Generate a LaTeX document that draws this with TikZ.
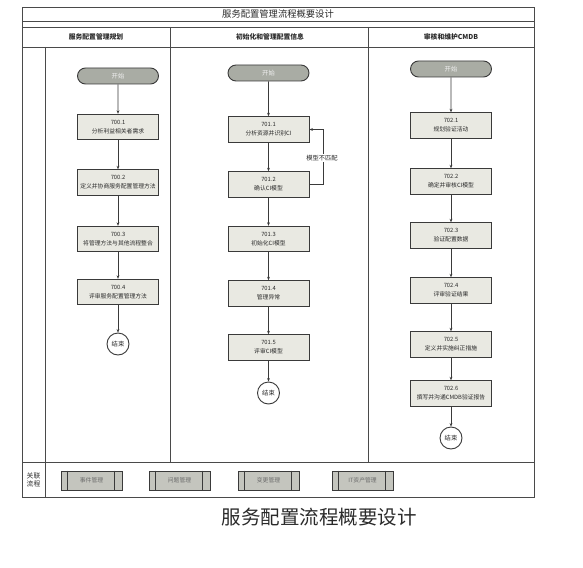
\documentclass[tikz,border=0pt]{standalone}
\usepackage{fontspec}
\setmainfont{Noto Sans CJK SC}
\usetikzlibrary{arrows.meta,shapes.misc}
\definecolor{linec}{HTML}{3A3A3A}
\definecolor{boxfill}{HTML}{E9E9E2}
\definecolor{startfill}{HTML}{A9ACA4}
\definecolor{subfill}{HTML}{C4C5BE}
\definecolor{textc}{HTML}{2A2A2A}
\definecolor{framec}{HTML}{4A4A4A}
\begin{document}
\begin{tikzpicture}[x=1pt,y=-1pt,
  frame/.style={draw=framec, line width=0.8pt},
  proc/.style={draw=linec, fill=boxfill, line width=0.9pt, minimum width=81pt, minimum height=25.5pt, inner sep=0pt, align=center, font=\fontsize{5.8}{9}\selectfont, text=textc},
  startn/.style={rounded rectangle, draw=linec, fill=startfill, line width=0.9pt, minimum width=81pt, minimum height=16pt, inner sep=0pt, font=\fontsize{6.3}{8}\selectfont, text=white!88!gray},
  endn/.style={circle, draw=linec, fill=white, line width=0.9pt, minimum size=22pt, inner sep=0pt, font=\fontsize{6.3}{8}\selectfont, text=textc},
  flow/.style={-{Stealth[length=3.5pt,width=2.8pt]}, line width=0.6pt, draw=linec},
  subp/.style={draw=linec, fill=subfill, line width=0.8pt, minimum width=61pt, minimum height=19pt, inner sep=0pt, font=\fontsize{5.8}{7}\selectfont, text=textc!70!white},
  hdr/.style={font=\fontsize{6.8}{8}\selectfont\bfseries, text=textc},
  lbl/.style={fill=white, inner sep=1pt, font=\fontsize{6.3}{8}\selectfont, text=textc}
]
\useasboundingbox (0,0) rectangle (583,567);
% frame
\draw[frame] (22,7) rectangle (534,497);
\draw[frame] (22,21) -- (534,21);
\draw[frame] (22,27) -- (534,27);
\draw[frame] (22,47) -- (534,47);
\draw[frame] (22,462) -- (534,462);
\draw[frame] (45,47) -- (45,497);
\draw[frame] (170,27) -- (170,462);
\draw[frame] (368,27) -- (368,462);
% titles
\node[font=\fontsize{9.3}{11}\selectfont, text=textc] (title) at (278,14) {服务配置管理流程概要设计};
\node[hdr] (h1) at (96,37) {服务配置管理规划};
\node[hdr] (h2) at (270,37) {初始化和管理配置信息};
\node[hdr] (h3) at (451,37) {审核和维护CMDB};
% column 1
\node[startn] (s0) at (118,76) {开始};
\node[proc] (a1) at (118,127) {700.1\\分析利益相关者需求};
\node[proc] (a2) at (118,182.5) {700.2\\定义并协商服务配置管理方法};
\node[proc] (a3) at (118,239) {700.3\\将管理方法与其他流程整合};
\node[proc] (a4) at (118,292) {700.4\\评审服务配置管理方法};
\node[endn] (e0) at (118,344) {结束};
\draw[flow] (s0) -- (a1);
\draw[flow] (a1) -- (a2);
\draw[flow] (a2) -- (a3);
\draw[flow] (a3) -- (a4);
\draw[flow] (a4) -- (e0);
% column 2
\node[startn] (s1) at (268.5,73) {开始};
\node[proc] (b1) at (268.5,129.5) {701.1\\分析资源并识别CI};
\node[proc] (b2) at (268.5,184.5) {701.2\\确认CI模型};
\node[proc] (b3) at (268.5,239) {701.3\\初始化CI模型};
\node[proc] (b4) at (268.5,293.5) {701.4\\管理异常};
\node[proc] (b5) at (268.5,347.5) {701.5\\评审CI模型};
\node[endn] (e1) at (268.5,393) {结束};
\draw[flow] (s1) -- (b1);
\draw[flow] (b1) -- (b2);
\draw[flow] (b2) -- (b3);
\draw[flow] (b3) -- (b4);
\draw[flow] (b4) -- (b5);
\draw[flow] (b5) -- (e1);
\coordinate (lpA) at (323,184.5);
\coordinate (lpB) at (323,129.5);
\draw[flow] (b2.east) -- (lpA) -- (lpB) -- (b1.east);
\node[lbl] (mis) at (322,158) {模型不匹配};
% column 3
\node[startn] (s2) at (451,69) {开始};
\node[proc] (c1) at (451,125.5) {702.1\\规划验证活动};
\node[proc] (c2) at (451,181.5) {702.2\\确定并审核CI模型};
\node[proc] (c3) at (451,235.5) {702.3\\验证配置数据};
\node[proc] (c4) at (451,290.5) {702.4\\评审验证结果};
\node[proc] (c5) at (451,344.5) {702.5\\定义并实施纠正措施};
\node[proc] (c6) at (451,393.5) {702.6\\撰写并沟通CMDB验证报告};
\node[endn] (e2) at (451,438) {结束};
\draw[flow] (s2) -- (c1);
\draw[flow] (c1) -- (c2);
\draw[flow] (c2) -- (c3);
\draw[flow] (c3) -- (c4);
\draw[flow] (c4) -- (c5);
\draw[flow] (c5) -- (c6);
\draw[flow] (c6) -- (e2);
% related processes
\node[align=center, font=\fontsize{6.8}{8.5}\selectfont, text=textc] (rel) at (33.5,480) {关联\\流程};
\foreach \n/\x/\t in {p1/91.5/事件管理, p2/179.5/问题管理, p3/268.5/变更管理, p4/362.5/IT资产管理}{
  \node[subp] (\n) at (\x,480.5) {\t};
  \draw[draw=linec, line width=0.8pt] ([xshift=7pt]\n.north west) -- ([xshift=7pt]\n.south west);
  \draw[draw=linec, line width=0.8pt] ([xshift=-8pt]\n.north east) -- ([xshift=-8pt]\n.south east);
}
% caption
\node[font=\fontsize{19.5}{22}\selectfont, text=textc] (cap) at (319,517) {服务配置流程概要设计};
\end{tikzpicture}
\end{document}
